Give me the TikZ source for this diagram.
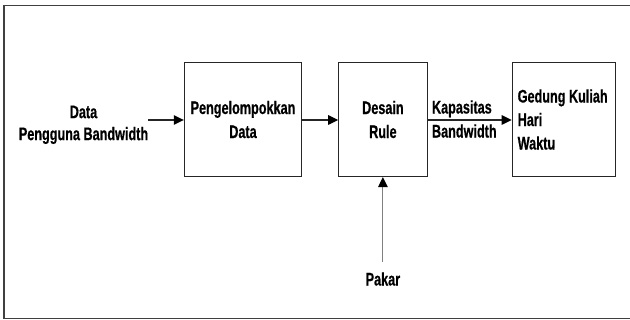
\documentclass[tikz,border=0pt]{standalone}
\usepackage{fontspec}
\setmainfont{Liberation Sans}[FakeStretch=0.695, BoldFeatures={FakeBold=0.6}]
\usetikzlibrary{arrows.meta}
\begin{document}
\begin{tikzpicture}[x=1pt,y=-1pt,
  every node/.style={font=\fontsize{18.2}{24}\selectfont\bfseries},
  blk/.style={draw=black!85, line width=1.1pt, minimum height=114pt, inner sep=0pt},
  flow/.style={draw=black!85, line width=1.1pt, -{Triangle[length=10pt,width=9.5pt,black]}},
  txt/.style={inner sep=0pt}]
\useasboundingbox (0,0) rectangle (630,320);
\draw[line width=1.4pt, draw=black!75] (630,5.5) -- (4,5.5) -- (4,318.5) -- (630,318.5);
\node[blk, minimum width=117.3pt, align=center] (b1) at (243,119.5) {Pengelompokkan\\Data};
\node[blk, minimum width=88.3pt, align=center] (b2) at (382.9,119.5) {Desain\\Rule};
\node[blk, minimum width=103.3pt] (b3) at (563.9,119.5) {};
\node[txt, align=left, anchor=west, font=\fontsize{18.2}{23.5}\selectfont\bfseries] (b3t) at ([xshift=5.8pt]b3.west) {Gedung Kuliah\\Hari\\Waktu};
\node[txt, align=center, font=\fontsize{18.2}{22}\selectfont\bfseries] (in) at (83.5,124.8) {Data\\Pengguna Bandwidth};
\node[txt, align=left, anchor=west] (kap) at (431.8,119) {Kapasitas\\Bandwidth};
\node[inner xsep=2pt, inner ysep=10.4pt] (pakar) at (382.9,279) {Pakar};
\draw[flow] (in.east |- 0,120) -- (b1.west |- 0,120);
\draw[flow] (b1.east |- 0,120) -- (b2.west |- 0,120);
\draw[flow] (b2.east |- 0,120) -- (b3.west |- 0,120);
\draw[flow, draw=black!50] (pakar.north) -- (b2.south);
\end{tikzpicture}
\end{document}
